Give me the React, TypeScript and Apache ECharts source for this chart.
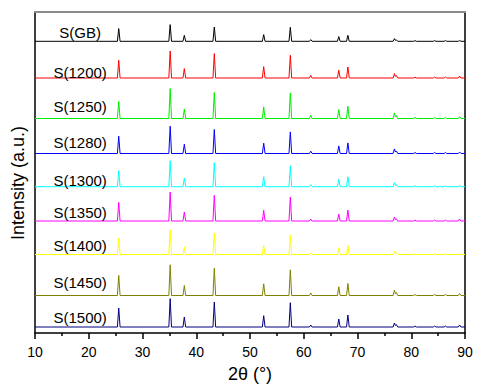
import React, { useEffect, useRef } from "react";
import * as echarts from "echarts";

// 2θ positions of the diffraction peaks (°)
const peakPositions = [25.58, 35.15, 37.78, 43.36, 52.55, 57.5, 61.3, 66.52, 68.21, 76.87, 77.23, 80.7, 84.36, 86.36, 89.0];

const sampleNames = ["S(GB)", "S(1200)", "S(1250)", "S(1280)", "S(1300)", "S(1350)", "S(1400)", "S(1450)", "S(1500)"];
const sampleColors = ["#000000", "#ff0000", "#00ee00", "#0000ff", "#00ffff", "#ff00ff", "#ffff00", "#808000", "#000080"];
// vertical offset of each pattern (a.u.)
const baselines = [291.7, 255, 214.5, 179.5, 146.3, 112, 78.5, 37.5, 6];
// label height above each baseline (a.u.)
const labelHeights = [9.3, 6, 12, 11, 6.7, 9, 9.5, 13.5, 10];

// peak intensities (a.u.) per sample, same order as peakPositions
const intGB = [12.7, 16.7, 6, 14.3, 6.7, 14, 1.7, 4.7, 6, 2.7, 1.5, 0.7, 0.7, 0.7, 0.7];
const int1200 = [17.7, 27, 9.4, 24.4, 11.4, 22.7, 2.7, 7.7, 11, 4.4, 2.5, 1, 1, 1, 2];
const int1250 = [17, 30, 9.4, 26, 11.6, 25.6, 3.3, 9, 12.3, 5.6, 3, 1.2, 1.2, 1.2, 2];
const int1280 = [17.3, 27.3, 9.3, 24, 10.3, 21.6, 2.3, 7.6, 10.6, 4.6, 2.5, 1, 1, 1, 1.5];
const int1300 = [16, 26, 8.7, 24, 10, 21, 2, 7.4, 10, 4, 2, 1, 1, 1, 1.5];
const int1350 = [18.7, 29, 9, 25.7, 10.7, 24, 2, 7, 11, 4, 2.2, 1, 1, 1, 2];
const int1400 = [16, 24.6, 7.6, 21.3, 9, 19.3, 1.5, 6.7, 9, 3.3, 1.8, 0.8, 0.8, 0.8, 1];
const int1450 = [20, 30.7, 10, 27.3, 11.7, 25.7, 2.4, 8.7, 12, 5.4, 3, 1, 1, 1, 2];
const int1500 = [19, 28.4, 10, 25, 11.3, 24.3, 2, 8, 12, 4, 2.5, 1, 1, 1, 2];
const intensities = [intGB, int1200, int1250, int1280, int1300, int1350, int1400, int1450, int1500];

const X_MIN = 10;
const X_MAX = 90;
const HALF_WIDTH = 0.25;

function buildPattern(heights: number[], base: number): number[][] {
  const pts: number[][] = [[X_MIN, base]];
  for (let i = 0; i < peakPositions.length; i++) {
    const p = peakPositions[i];
    const h = heights[i];
    const prev = i > 0 ? peakPositions[i - 1] : -Infinity;
    const next = i < peakPositions.length - 1 ? peakPositions[i + 1] : Infinity;
    const overlapPrev = p - HALF_WIDTH < prev + HALF_WIDTH;
    const overlapNext = p + HALF_WIDTH > next - HALF_WIDTH;
    if (!overlapPrev) pts.push([p - HALF_WIDTH, base]);
    pts.push([p, base + h]);
    if (overlapNext) {
      const hn = heights[i + 1];
      pts.push([(p + next) / 2, base + Math.min(h, hn) * 0.6]);
    } else {
      pts.push([Math.min(p + HALF_WIDTH, X_MAX), base]);
    }
  }
  const last = pts[pts.length - 1];
  if (last[0] < X_MAX) pts.push([X_MAX, base]);
  return pts;
}

const FONT = "Liberation Sans, Arial, sans-serif";

export default function App() {
  const ref = useRef<HTMLDivElement>(null);
  useEffect(() => {
    if (!ref.current) return;
    const chart = echarts.init(ref.current, undefined, { renderer: "svg" });
    const series = sampleNames.map((name, i) => ({
      name,
      type: "line",
      data: buildPattern(intensities[i], baselines[i]),
      showSymbol: false,
      symbol: "none",
      lineStyle: { color: sampleColors[i], width: 1 },
      itemStyle: { color: sampleColors[i] },
      xAxisIndex: 0,
      yAxisIndex: 0,
      z: 2,
      markPoint: {
        symbol: "circle",
        symbolSize: 0,
        silent: true,
        label: {
          show: true,
          position: "inside",
          formatter: name,
          color: "#000",
          fontSize: 15,
          fontFamily: FONT,
        },
        data: [{ coord: [18.4, baselines[i] + labelHeights[i]], value: 0 }],
      },
    }));
    chart.setOption({
      animation: false,
      backgroundColor: "#ffffff",
      grid: { left: 35, right: 14, top: 12, bottom: 57, containLabel: false },
      xAxis: [
        {
          type: "value",
          min: X_MIN,
          max: X_MAX,
          interval: 10,
          position: "bottom",
          name: "2θ (°)",
          nameLocation: "middle",
          nameGap: 32,
          nameTextStyle: { fontSize: 18, color: "#000", fontFamily: FONT },
          axisLine: { show: true, onZero: false, lineStyle: { color: "#000", width: 1.5 } },
          axisTick: { show: true, inside: false, length: 6, lineStyle: { color: "#000", width: 1.5 } },
          minorTick: { show: true, splitNumber: 2, length: 3, lineStyle: { color: "#000", width: 1.5 } },
          axisLabel: { fontSize: 14, color: "#000", fontFamily: FONT, margin: 12 },
          splitLine: { show: false },
        },
        {
          type: "value",
          min: X_MIN,
          max: X_MAX,
          position: "top",
          axisLine: { show: true, onZero: false, lineStyle: { color: "#8c8c8c", width: 2 } },
          axisTick: { show: false },
          axisLabel: { show: false },
          splitLine: { show: false },
        },
      ],
      yAxis: [
        {
          type: "value",
          min: 0,
          max: 321,
          position: "left",
          axisLine: { show: true, onZero: false, lineStyle: { color: "#000", width: 1.5 } },
          axisTick: { show: false },
          axisLabel: { show: false },
          splitLine: { show: false },
        },
        {
          type: "value",
          min: 0,
          max: 321,
          position: "right",
          axisLine: { show: true, onZero: false, lineStyle: { color: "#000", width: 1.5 } },
          axisTick: { show: false },
          axisLabel: { show: false },
          splitLine: { show: false },
        },
      ],
      graphic: [
        {
          type: "text",
          x: 18,
          y: 183,
          rotation: Math.PI / 2,
          style: {
            text: "Intensity (a.u.)",
            fill: "#000",
            fontSize: 18,
            fontFamily: FONT,
            align: "center",
            verticalAlign: "middle",
          },
        },
      ],
      series,
    });
    return () => chart.dispose();
  }, []);
  return <div ref={ref} style={{ width: 479, height: 390, position: "absolute", left: 0, top: 0 }} />;
}
